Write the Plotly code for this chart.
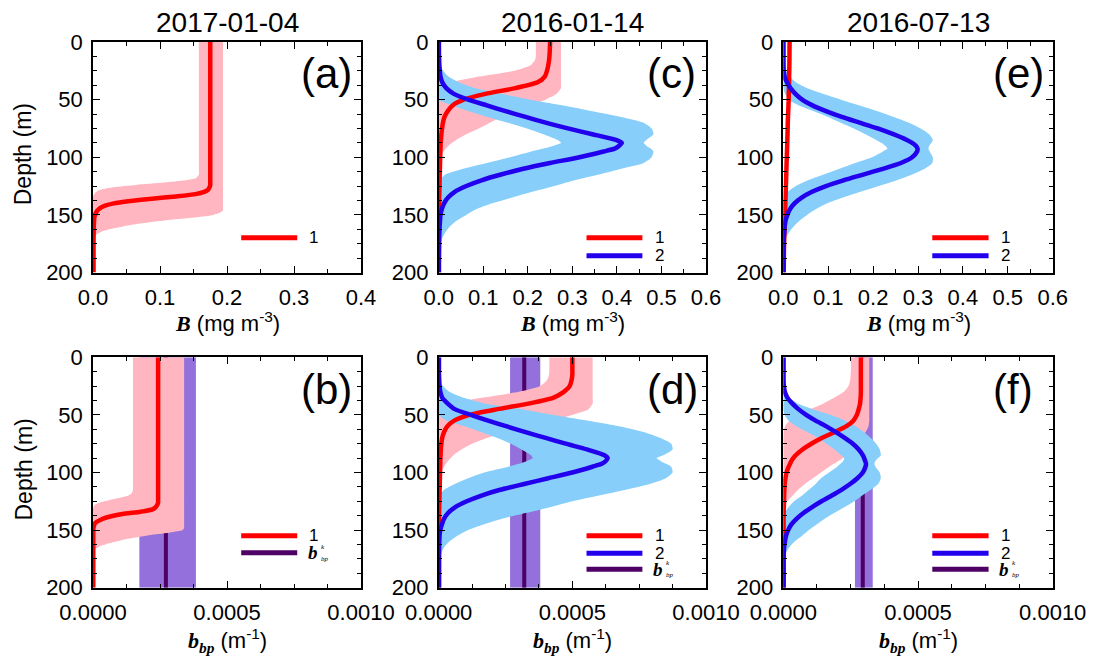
import plotly.graph_objects as go

# ---------------- data ----------------
DATES = ["2017-01-04", "2016-01-14", "2016-07-13"]
PANEL_LABELS = ["(a)", "(c)", "(e)", "(b)", "(d)", "(f)"]
DEPTH_TICKS = [0, 50, 100, 150, 200]

# depth grid for panels (a) and (b)
Z_AB = [0, 25, 50, 75, 100, 110, 115, 118, 120, 122, 124, 126, 128, 130, 132, 134, 136, 138,
        140, 142, 144, 146, 148, 150, 152, 154, 156, 158, 160, 162, 164, 167, 170, 180, 190, 200]

RED_A = [0.175, 0.175, 0.175, 0.175, 0.175, 0.175, 0.175, 0.175, 0.175, 0.175, 0.175, 0.174,
         0.172, 0.166, 0.153, 0.124, 0.088, 0.056, 0.031, 0.018, 0.011, 0.007, 0.0045, 0.003,
         0.002, 0.0017, 0.0015, 0.0013, 0.0012, 0.0011, 0.001, 0.001, 0.0009, 0.0008, 0.0008, 0.0008]
PINK_A_LO = [0.158, 0.158, 0.158, 0.158, 0.158, 0.158, 0.158, 0.154, 0.138, 0.106, 0.064, 0.03,
             0.012, 0.005, 0.002, 0, 0, 0, 0, 0, 0, 0, 0, 0, 0, 0, 0, 0, 0, 0, 0, 0, 0, 0, 0, 0]
PINK_A_HI = [0.194, 0.194, 0.194, 0.194, 0.194, 0.194, 0.194, 0.194, 0.194, 0.194, 0.194, 0.194,
             0.194, 0.194, 0.194, 0.194, 0.194, 0.194, 0.194, 0.194, 0.194, 0.194, 0.19, 0.18,
             0.155, 0.12, 0.09, 0.065, 0.045, 0.028, 0.015, 0.005, 0.001, 0, 0, 0]

RED_B = [0.000243, 0.000243, 0.000243, 0.000243, 0.000243, 0.000243, 0.000243, 0.000243,
         0.000243, 0.000243, 0.000243, 0.000243, 0.00024, 0.000234, 0.000222, 0.000178,
         0.00011, 0.000068, 0.000038, 0.00002, 0.000008, 0.000004, 0.000002, 0.000001,
         0.000001, 0.000001, 0.000001, 0.000001, 0.000001, 0.000001, 0.000001, 0.000001,
         0.000001, 0.000001, 0.000001, 0.000001]
PINK_B_LO = [0.000149, 0.000149, 0.000149, 0.000149, 0.000149, 0.000149, 0.000149, 0.000145,
             0.000132, 0.0001, 0.00006, 0.000025, 0.000008, 0.000002, 0, 0, 0, 0, 0, 0, 0, 0,
             0, 0, 0, 0, 0, 0, 0, 0, 0, 0, 0, 0, 0, 0]
PINK_B_HI = [0.00034, 0.00034, 0.00034, 0.00034, 0.00034, 0.00034, 0.00034, 0.00034, 0.00034,
             0.00034, 0.00034, 0.00034, 0.00034, 0.00034, 0.00034, 0.00034, 0.00034, 0.00034,
             0.00034, 0.00034, 0.00034, 0.00034, 0.00034, 0.000335, 0.00029, 0.00022, 0.00017,
             0.00012, 0.000087, 0.000052, 0.000025, 0.000005, 0, 0, 0, 0]
BK_B, BK_B_LO, BK_B_HI = 0.000272, 0.000173, 0.000384

# depth grid for panels (c)-(f)
Z = [0, 10, 15, 20, 25, 30, 35, 40, 45, 50, 55, 60, 65, 70, 75, 80, 85, 87.5, 90, 92.5, 95,
     100, 105, 110, 115, 120, 125, 130, 135, 140, 145, 150, 155, 160, 165, 170, 175, 180, 190, 200]

RED_C = [0.250, 0.249, 0.248, 0.246, 0.243, 0.238, 0.222, 0.172, 0.105, 0.056, 0.031, 0.02,
         0.013, 0.0095, 0.0075, 0.006, 0.005, 0.0045, 0.0042, 0.004, 0.0038, 0.0034, 0.003,
         0.0027, 0.0024, 0.002, 0.0018, 0.0015, 0.0012, 0.001, 0.0007, 0.0005, 0.0004, 0.0003,
         0.0003, 0.0003, 0.0003, 0.0003, 0.0003, 0.0003]
PINK_C_LO = [0.218, 0.218, 0.217, 0.207, 0.17, 0.09, 0.03, 0.007, 0.001, 0, 0, 0, 0, 0, 0, 0,
             0, 0, 0, 0, 0, 0, 0, 0, 0, 0, 0, 0, 0, 0, 0, 0, 0, 0, 0, 0, 0, 0, 0, 0]
PINK_C_HI = [0.2745, 0.2745, 0.2745, 0.2745, 0.2745, 0.2745, 0.2745, 0.2745, 0.265, 0.24, 0.205,
             0.168, 0.14, 0.115, 0.09, 0.062, 0.039, 0.03, 0.022, 0.016, 0.011, 0.004, 0.001,
             0, 0, 0, 0, 0, 0, 0, 0, 0, 0, 0, 0, 0, 0, 0, 0, 0]
BLUE_C = [0.0005, 0.0006, 0.001, 0.0015, 0.0025, 0.004, 0.008, 0.017, 0.034, 0.066, 0.108, 0.15,
          0.195, 0.24, 0.29, 0.345, 0.398, 0.411, 0.405, 0.395, 0.37, 0.316, 0.25, 0.19, 0.14,
          0.096, 0.062, 0.036, 0.021, 0.012, 0.007, 0.004, 0.003, 0.002, 0.0015, 0.001, 0.001,
          0.0008, 0.0005, 0.0005]
BLUE_C_LO = [0, 0, 0, 0, 0, 0, 0, 0, 0, 0, 0.03, 0.068, 0.11, 0.155, 0.198, 0.235, 0.267, 0.275,
             0.258, 0.235, 0.208, 0.16, 0.108, 0.055, 0.015, 0.002, 0, 0, 0, 0, 0, 0, 0, 0, 0, 0,
             0, 0, 0, 0]
BLUE_C_HI = [0, 0, 0.002, 0.004, 0.01, 0.022, 0.045, 0.08, 0.14, 0.205, 0.28, 0.345, 0.41, 0.46,
             0.478, 0.482, 0.466, 0.46, 0.466, 0.476, 0.482, 0.478, 0.46, 0.41, 0.36, 0.305, 0.26,
             0.21, 0.165, 0.12, 0.085, 0.062, 0.04, 0.025, 0.015, 0.008, 0.004, 0.002, 0, 0]

RED_D = [0.0005, 0.0005, 0.0005, 0.000497, 0.00049, 0.000468, 0.00043, 0.00034, 0.00022,
         0.000115, 0.000058, 0.000032, 0.00002, 0.000013, 0.00001, 0.000008, 0.000007,
         0.0000065, 0.000006, 0.000006, 0.0000055, 0.000005, 0.0000045, 0.000004, 0.0000035,
         0.000003, 0.0000025, 0.000002, 0.0000015, 0.000001, 0.000001, 0.000001, 0.000001,
         0.000001, 0.000001, 0.000001, 0.000001, 0.000001, 0.000001, 0.000001]
PINK_D_LO = [0.000414, 0.000414, 0.000413, 0.000405, 0.00038, 0.0003, 0.000165, 0.00005,
             0.00001, 0.000002, 0, 0, 0, 0, 0, 0, 0, 0, 0, 0, 0, 0, 0, 0, 0, 0, 0, 0, 0, 0, 0,
             0, 0, 0, 0, 0, 0, 0, 0, 0]
PINK_D_HI = [0.000576, 0.000576, 0.000576, 0.000576, 0.000576, 0.000576, 0.000576, 0.000576,
             0.00056, 0.0005, 0.00042, 0.00033, 0.00025, 0.00018, 0.000125, 0.000085, 0.000055,
             0.000045, 0.000035, 0.000027, 0.00002, 0.00001, 0.000004, 0.000001, 0, 0, 0, 0, 0,
             0, 0, 0, 0, 0, 0, 0, 0, 0, 0, 0]
BLUE_D = [0.000001, 0.000001, 0.000001, 0.000002, 0.000003, 0.000006, 0.000013, 0.000033,
          0.00006, 0.00012, 0.000185, 0.000255, 0.000325, 0.0004, 0.000475, 0.000555, 0.00062,
          0.000632, 0.000625, 0.00061, 0.000575, 0.0005, 0.00041, 0.00032, 0.00023, 0.00016,
          0.000105, 0.000062, 0.000036, 0.00002, 0.000012, 0.000006, 0.000003, 0.000002,
          0.000001, 0.000001, 0.000001, 0.000001, 0.000001, 0.000001]
BLUE_D_LO = [0, 0, 0, 0, 0, 0, 0, 0, 0, 0, 0.00003, 0.0001, 0.00016, 0.00022, 0.00027, 0.00031,
             0.000345, 0.000352, 0.00033, 0.0003, 0.00026, 0.00017, 0.00011, 0.00006, 0.00002,
             0.000003, 0, 0, 0, 0, 0, 0, 0, 0, 0, 0, 0, 0, 0, 0]
BLUE_D_HI = [0, 0, 0.000002, 0.000006, 0.000016, 0.00004, 0.00009, 0.00017, 0.00031, 0.00043,
             0.00056, 0.00068, 0.00077, 0.00083, 0.00087, 0.000875, 0.00084, 0.000815, 0.00083,
             0.00085, 0.00087, 0.000875, 0.00085, 0.00079, 0.0007, 0.0006, 0.0005, 0.00042,
             0.00033, 0.00024, 0.00017, 0.00011, 0.00007, 0.00004, 0.00002, 0.00001, 0.000003,
             0, 0, 0]
BK_D, BK_D_LO, BK_D_HI = 0.00032, 0.000267, 0.00038

RED_E = [0.014, 0.0138, 0.0137, 0.0135, 0.0133, 0.013, 0.0128, 0.0125, 0.0122, 0.012, 0.0115,
         0.011, 0.0105, 0.01, 0.0097, 0.0094, 0.009, 0.0088, 0.0086, 0.0084, 0.0082, 0.0078,
         0.0073, 0.007, 0.0066, 0.0062, 0.0058, 0.0054, 0.005, 0.0046, 0.0042, 0.0038, 0.0034,
         0.003, 0.0026, 0.0022, 0.0018, 0.0015, 0.0012, 0.001]
PINK_E_LO = [0.010, 0.0098, 0.0097, 0.0095, 0.0093, 0.009, 0.0087, 0.0084, 0.0081, 0.0078,
             0.0074, 0.007, 0.0066, 0.0062, 0.0059, 0.0056, 0.0053, 0.0051, 0.005, 0.0048,
             0.0046, 0.0043, 0.0039, 0.0036, 0.0033, 0.003, 0.0027, 0.0024, 0.0021, 0.0018,
             0.0015, 0.0012, 0.001, 0.0008, 0.0006, 0.0004, 0.0002, 0.0001, 0, 0]
PINK_E_HI = [0.016, 0.0158, 0.0157, 0.0155, 0.0153, 0.015, 0.0148, 0.0145, 0.0142, 0.014,
             0.0135, 0.013, 0.0125, 0.012, 0.0117, 0.0114, 0.011, 0.0108, 0.0106, 0.0104,
             0.0102, 0.0098, 0.0093, 0.009, 0.0086, 0.0082, 0.0078, 0.0074, 0.007, 0.0066,
             0.0062, 0.0058, 0.0054, 0.005, 0.0046, 0.0042, 0.0038, 0.0035, 0.003, 0.0026]
BLUE_E = [0.0005, 0.0005, 0.0005, 0.0006, 0.001, 0.003, 0.008, 0.016, 0.027, 0.042, 0.065,
          0.095, 0.13, 0.17, 0.21, 0.245, 0.275, 0.287, 0.295, 0.299, 0.298, 0.287, 0.262,
          0.222, 0.178, 0.134, 0.095, 0.064, 0.041, 0.025, 0.015, 0.009, 0.005, 0.003, 0.002,
          0.001, 0.0008, 0.0006, 0.0005, 0.0005]
BLUE_E_LO = [0, 0, 0, 0, 0, 0, 0, 0, 0.004, 0.012, 0.035, 0.068, 0.1, 0.128, 0.157, 0.183,
             0.207, 0.218, 0.227, 0.232, 0.222, 0.198, 0.16, 0.125, 0.09, 0.055, 0.028, 0.01,
             0.002, 0, 0, 0, 0, 0, 0, 0, 0, 0, 0, 0]
BLUE_E_HI = [0, 0, 0, 0.002, 0.006, 0.014, 0.028, 0.052, 0.088, 0.128, 0.17, 0.21, 0.246, 0.28,
             0.306, 0.325, 0.333, 0.33, 0.325, 0.323, 0.326, 0.333, 0.332, 0.315, 0.287, 0.253,
             0.213, 0.172, 0.133, 0.098, 0.073, 0.053, 0.036, 0.023, 0.013, 0.006, 0.002, 0, 0, 0]

RED_F = [0.000288, 0.000288, 0.000288, 0.000288, 0.000288, 0.000288, 0.000287, 0.000285,
         0.00028, 0.000273, 0.00026, 0.000233, 0.00019, 0.000143, 0.000104, 0.000071,
         0.000046, 0.000037, 0.00003, 0.000025, 0.00002, 0.000012, 0.000008, 0.000005,
         0.000004, 0.000003, 0.0000025, 0.000002, 0.0000015, 0.000001, 0.000001, 0.000001,
         0.000001, 0.000001, 0.000001, 0.000001, 0.000001, 0.000001, 0.000001, 0.000001]
PINK_F_LO = [0.000251, 0.000251, 0.00025, 0.000248, 0.000242, 0.000225, 0.00019, 0.00015,
             0.0001, 0.000055, 0.000022, 0.000006, 0.000001, 0, 0, 0, 0, 0, 0, 0, 0, 0, 0, 0,
             0, 0, 0, 0, 0, 0, 0, 0, 0, 0, 0, 0, 0, 0, 0, 0]
PINK_F_HI = [0.000319, 0.000319, 0.000319, 0.000319, 0.000319, 0.000319, 0.000319, 0.000319,
             0.000319, 0.000319, 0.000319, 0.000316, 0.000305, 0.00029, 0.000272, 0.000255,
             0.000235, 0.000222, 0.000205, 0.000188, 0.00017, 0.00014, 0.00011, 0.00008,
             0.000055, 0.000035, 0.000015, 0.000004, 0, 0, 0, 0, 0, 0, 0, 0, 0, 0, 0, 0]
BLUE_F = [0.000001, 0.000001, 0.000001, 0.000001, 0.000002, 0.000006, 0.000015, 0.000033,
          0.000056, 0.000085, 0.00012, 0.00016, 0.000195, 0.000228, 0.000258, 0.00028,
          0.000295, 0.0003, 0.000304, 0.000307, 0.000305, 0.000295, 0.000275, 0.000248,
          0.000216, 0.00018, 0.000142, 0.000107, 0.000076, 0.00005, 0.00003, 0.000018,
          0.00001, 0.000006, 0.000003, 0.000002, 0.000001, 0.000001, 0.000001, 0.000001]
BLUE_F_LO = [0, 0, 0, 0, 0, 0, 0, 0, 0, 0.000005, 0.00002, 0.00005, 0.00009, 0.00013, 0.00016,
             0.00019, 0.000215, 0.000226, 0.000222, 0.000212, 0.0002, 0.00017, 0.00014,
             0.00012, 0.000095, 0.00007, 0.00004, 0.00002, 0.000005, 0, 0, 0, 0, 0, 0, 0, 0,
             0, 0, 0]
BLUE_F_HI = [0, 0, 0, 0, 0.000002, 0.000008, 0.000022, 0.000053, 0.00011, 0.000177, 0.00023,
             0.00027, 0.0003, 0.000325, 0.000345, 0.000358, 0.000362, 0.000352, 0.000342,
             0.000338, 0.000342, 0.000358, 0.000362, 0.000352, 0.000325, 0.000293, 0.000264,
             0.000228, 0.00019, 0.000155, 0.000125, 0.000095, 0.00007, 0.000042, 0.000022,
             0.000008, 0.000002, 0, 0, 0]
BK_F, BK_F_LO, BK_F_HI = 0.000295, 0.000266, 0.000332

# ---------------- styling ----------------
RED = "#ff0000"
PINK = "#ffb6c1"
BLUE = "#2200ee"
LIGHTBLUE = "#87cefa"
PURPLE = "#9370db"
DARKPURPLE = "#4e0064"
SANS = "Liberation Sans, Arial, Helvetica, sans-serif"
SERIF = "Liberation Serif, Times New Roman, serif"

W, H = 1096, 657
COLS = [(93.0, 361.0), (438.7, 706.0), (783.3, 1052.7)]
ROWS = [(42.0, 272.5), (357.3, 587.7)]


def fx(p):
    return p / W


def fy(p):
    return 1 - p / H


panels = [
    dict(row=0, col=0, xr=[0, 0.4], bands=[(Z_AB, PINK_A_LO, PINK_A_HI, PINK)],
         lines=[(Z_AB, RED_A, RED)], bk=None, leg=[("1", RED)]),
    dict(row=0, col=1, xr=[0, 0.6],
         bands=[(Z, PINK_C_LO, PINK_C_HI, PINK), (Z, BLUE_C_LO, BLUE_C_HI, LIGHTBLUE)],
         lines=[(Z, RED_C, RED), (Z, BLUE_C, BLUE)], bk=None, leg=[("1", RED), ("2", BLUE)]),
    dict(row=0, col=2, xr=[0, 0.6],
         bands=[(Z, PINK_E_LO, PINK_E_HI, PINK), (Z, BLUE_E_LO, BLUE_E_HI, LIGHTBLUE)],
         lines=[(Z, RED_E, RED), (Z, BLUE_E, BLUE)], bk=None, leg=[("1", RED), ("2", BLUE)]),
    dict(row=1, col=0, xr=[0, 0.001], bands=[(Z_AB, PINK_B_LO, PINK_B_HI, PINK)],
         lines=[(Z_AB, RED_B, RED)], bk=(BK_B, BK_B_LO, BK_B_HI),
         leg=[("1", RED), ("bk", DARKPURPLE)]),
    dict(row=1, col=1, xr=[0, 0.001],
         bands=[(Z, PINK_D_LO, PINK_D_HI, PINK), (Z, BLUE_D_LO, BLUE_D_HI, LIGHTBLUE)],
         lines=[(Z, RED_D, RED), (Z, BLUE_D, BLUE)], bk=(BK_D, BK_D_LO, BK_D_HI),
         leg=[("1", RED), ("2", BLUE), ("bk", DARKPURPLE)]),
    dict(row=1, col=2, xr=[0, 0.001],
         bands=[(Z, PINK_F_LO, PINK_F_HI, PINK), (Z, BLUE_F_LO, BLUE_F_HI, LIGHTBLUE)],
         lines=[(Z, RED_F, RED), (Z, BLUE_F, BLUE)], bk=(BK_F, BK_F_LO, BK_F_HI),
         leg=[("1", RED), ("2", BLUE), ("bk", DARKPURPLE)]),
]
LEG_Y = {(0, 1): [0.151], (0, 2): [0.151, 0.073], (1, 2): [0.225, 0.152],
         (1, 3): [0.225, 0.149, 0.08]}

fig = go.Figure()
layout = dict(width=W, height=H, margin=dict(l=0, r=0, t=0, b=0, pad=0), autosize=False,
              paper_bgcolor="white", plot_bgcolor="white", showlegend=False)
annotations = []
shapes = []

for i, p in enumerate(panels):
    n = i + 1
    xa = "x" if n == 1 else f"x{n}"
    ya = "y" if n == 1 else f"y{n}"
    c0, c1 = COLS[p["col"]]
    r0, r1 = ROWS[p["row"]]
    top = p["row"] == 0

    # vertical b_bp^k band and line
    if p["bk"] is not None:
        v, lo, hi = p["bk"]
        zr = [DEPTH_TICKS[0], DEPTH_TICKS[-1]]
        fig.add_trace(go.Scatter(x=[lo, lo, hi, hi], y=[zr[0], zr[1], zr[1], zr[0]],
                                 fill="toself", fillcolor=PURPLE, mode="lines",
                                 line=dict(width=0), hoverinfo="skip", xaxis=xa, yaxis=ya))
        fig.add_trace(go.Scatter(x=[v, v], y=zr, mode="lines",
                                 line=dict(color=DARKPURPLE, width=4), hoverinfo="skip",
                                 xaxis=xa, yaxis=ya))
    # uncertainty bands
    for zz, lo, hi, col in p["bands"]:
        fig.add_trace(go.Scatter(x=list(lo) + list(hi)[::-1], y=list(zz) + list(zz)[::-1],
                                 fill="toself", fillcolor=col, mode="lines",
                                 line=dict(width=0, shape="spline", smoothing=0.6),
                                 hoverinfo="skip", xaxis=xa, yaxis=ya))
    # profiles
    for zz, vals, col in p["lines"]:
        fig.add_trace(go.Scatter(x=vals, y=zz, mode="lines",
                                 line=dict(color=col, width=4.5, shape="spline", smoothing=0.6),
                                 hoverinfo="skip", xaxis=xa, yaxis=ya))

    if top:
        xt = dict(dtick=0.1, tick0=0, tickformat=".1f", minor=dict(dtick=0.05))
    else:
        xt = dict(dtick=0.0005, tick0=0, tickformat=".4f", minor=dict(dtick=0.000125))
    xt["minor"].update(ticks="inside", ticklen=4, tickcolor="black", tickwidth=1)
    layout["xaxis" if n == 1 else f"xaxis{n}"] = dict(
        domain=[fx(c0), fx(c1)], anchor=ya, range=p["xr"], showgrid=False, zeroline=False,
        automargin=False,
        showline=True, linecolor="black", linewidth=1.5, mirror="ticks", ticks="inside",
        ticklen=7, tickwidth=1.2, tickcolor="black", ticklabelstandoff=4,
        tickfont=dict(family=SANS, size=22, color="black"), **xt)
    layout["yaxis" if n == 1 else f"yaxis{n}"] = dict(
        domain=[fy(r1), fy(r0)], anchor=xa, range=[200, 0], showgrid=False, zeroline=False,
        automargin=False,
        showline=True, linecolor="black", linewidth=1.5, mirror="ticks", ticks="inside",
        ticklen=7, tickwidth=1.2, tickcolor="black", tickvals=DEPTH_TICKS,
        ticktext=[str(t) for t in DEPTH_TICKS], ticklabelstandoff=4,
        minor=dict(dtick=12.5, tick0=0, ticks="inside", ticklen=4, tickcolor="black", tickwidth=1),
        tickfont=dict(family=SANS, size=22, color="black"))

    # panel label
    annotations.append(dict(text=PANEL_LABELS[i], xref=f"{xa} domain", yref=f"{ya} domain",
                            x=0.77, y=0.862, xanchor="left", yanchor="middle", showarrow=False,
                            font=dict(family=SANS, size=42, color="black")))
    # legend
    ys = LEG_Y[(p["row"], len(p["leg"]))]
    for (lab, col), yy in zip(p["leg"], ys):
        shapes.append(dict(type="line", xref=f"{xa} domain", yref=f"{ya} domain",
                           x0=0.553, x1=0.762, y0=yy, y1=yy,
                           line=dict(color=col, width=5)))
        if lab == "bk":
            annotations.append(dict(text="<b><i>b</i></b>", xref=f"{xa} domain",
                                    yref=f"{ya} domain", x=0.795, y=yy, xanchor="left",
                                    yanchor="middle", showarrow=False,
                                    font=dict(family=SERIF, size=19, color="black")))
            annotations.append(dict(text="<i>k</i>", xref=f"{xa} domain",
                                    yref=f"{ya} domain", x=0.795, y=yy, xanchor="left",
                                    yanchor="middle", xshift=13, yshift=6, showarrow=False,
                                    font=dict(family=SERIF, size=7, color="black")))
            annotations.append(dict(text="<i>bp</i>", xref=f"{xa} domain",
                                    yref=f"{ya} domain", x=0.795, y=yy, xanchor="left",
                                    yanchor="middle", xshift=13, yshift=-6, showarrow=False,
                                    font=dict(family=SERIF, size=7, color="black")))
        else:
            annotations.append(dict(text=lab, xref=f"{xa} domain", yref=f"{ya} domain",
                                    x=0.8, y=yy, xanchor="left", yanchor="middle",
                                    showarrow=False, font=dict(family=SANS, size=17, color="black")))

    # x axis titles
    xc = fx((c0 + c1) / 2)
    if top:
        txt = (f"<span style='font-family:{SERIF}'><b><i>B</i></b></span>"
               " (mg m<sup>-3</sup>)")
        yy = fy(322)
    else:
        txt = (f"<span style='font-family:{SERIF}'><b><i>b<sub>bp</sub></i></b></span>"
               " (m<sup>-1</sup>)")
        yy = fy(640)
    annotations.append(dict(text=txt, xref="paper", yref="paper", x=xc, y=yy,
                            xanchor="center", yanchor="middle", showarrow=False,
                            font=dict(family=SANS, size=22, color="black")))

# column titles
for k, d in enumerate(DATES):
    c0, c1 = COLS[k]
    annotations.append(dict(text=d, xref="paper", yref="paper", x=fx((c0 + c1) / 2),
                            y=fy(22.5), xanchor="center", yanchor="middle", showarrow=False,
                            font=dict(family=SANS, size=28, color="black")))
# depth titles
for r0, r1 in ROWS:
    annotations.append(dict(text="Depth (m)", xref="paper", yref="paper", x=fx(23),
                            y=fy((r0 + r1) / 2 - 3), xanchor="center", yanchor="middle",
                            textangle=-90, showarrow=False,
                            font=dict(family=SANS, size=23, color="black")))

layout["annotations"] = annotations
layout["shapes"] = shapes
fig.update_layout(**layout)
fig.write_html("out.html")
